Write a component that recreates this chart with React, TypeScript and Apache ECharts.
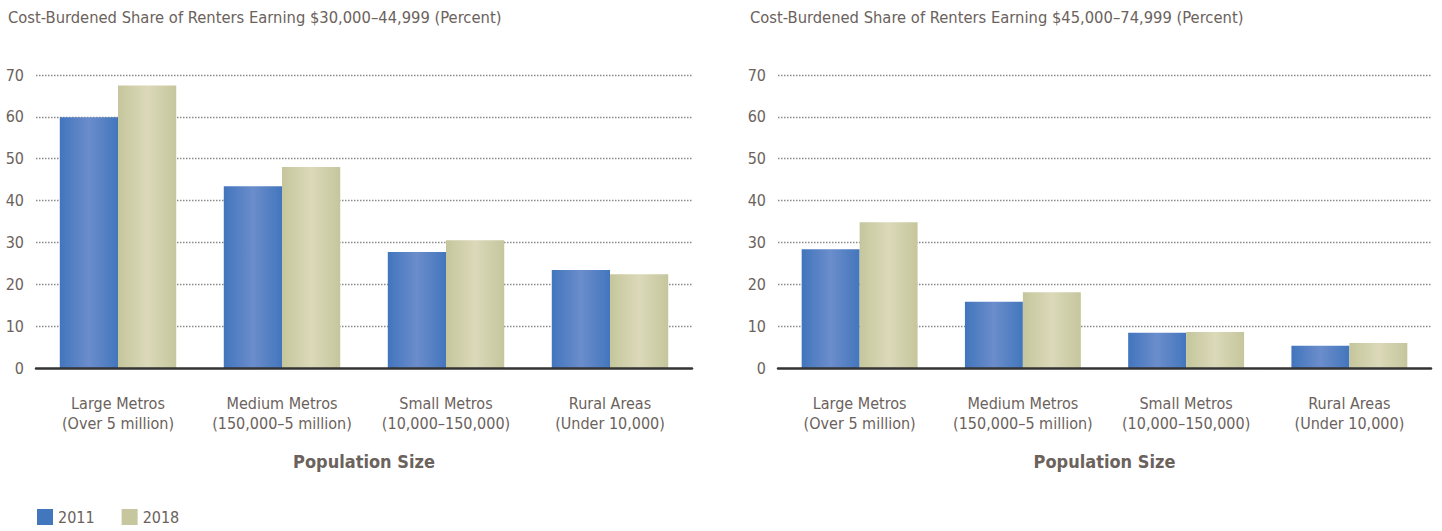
import React, { useEffect, useRef } from "react";
import * as echarts from "echarts";

const categories = [
  "Large Metros\n(Over 5 million)",
  "Medium Metros\n(150,000–5 million)",
  "Small Metros\n(10,000–150,000)",
  "Rural Areas\n(Under 10,000)",
];
const seriesNames = ["2011", "2018"];
const left2011 = [59.9, 43.4, 27.7, 23.4];
const left2018 = [67.5, 48.0, 30.5, 22.4];
const right2011 = [28.4, 15.8, 8.4, 5.3];
const right2018 = [34.8, 18.1, 8.6, 6.0];
const titles = [
  "Cost-Burdened Share of Renters Earning $30,000–44,999 (Percent)",
  "Cost-Burdened Share of Renters Earning $45,000–74,999 (Percent)",
];
const axisName = "Population Size";

const FONT = '"Liberation Sans Narrow", "DejaVu Sans Condensed", "Roboto", sans-serif';
const TEXT = "#6b625c";

const blueGrad = () =>
  new echarts.graphic.LinearGradient(0, 0, 1, 0, [
    { offset: 0, color: "#4275bd" },
    { offset: 0.5, color: "#6b8dcb" },
    { offset: 1, color: "#4376bd" },
  ]);
const greenGrad = () =>
  new echarts.graphic.LinearGradient(0, 0, 1, 0, [
    { offset: 0, color: "#c5c69c" },
    { offset: 0.5, color: "#dbd9b9" },
    { offset: 1, color: "#c5c69d" },
  ]);

export default function App() {
  const ref = useRef<HTMLDivElement>(null);
  useEffect(() => {
    document.body.style.margin = "0";
    const chart = echarts.init(ref.current!, undefined, { renderer: "svg" });
    const grids = [
      { left: 36, top: 75, width: 656, height: 293 },
      { left: 778, top: 75, width: 653, height: 293 },
    ];
    const xAxis = grids.map((_, i) => ({
      type: "category",
      gridIndex: i,
      data: categories,
      z: 10,
      axisTick: { show: false },
      axisLine: {
        show: true,
        onZero: false,
        lineStyle: { color: "#333333", width: 2.5 },
      },
      axisLabel: {
        interval: 0,
        color: TEXT,
        fontFamily: FONT,
        fontSize: 16,
        lineHeight: 20,
        margin: 25,
      },
      name: axisName,
      nameLocation: "middle",
      nameGap: 84,
      nameTextStyle: {
        color: TEXT,
        fontFamily: FONT,
        fontSize: 18,
        fontWeight: "bold",
      },
    }));
    const yAxis = grids.map((_, i) => ({
      type: "value",
      gridIndex: i,
      min: 0,
      max: 70,
      interval: 10,
      axisLine: { show: false },
      axisTick: { show: false },
      axisLabel: { color: TEXT, fontFamily: FONT, fontSize: 16, margin: 12 },
      splitLine: {
        showMinLine: false,
        lineStyle: { color: "#8a8a8a", width: 1.3, type: [1.5, 1.5] },
      },
    }));
    const mk = (name: string, data: number[], idx: number, grad: any) => ({
      name,
      type: "bar",
      xAxisIndex: idx,
      yAxisIndex: idx,
      data,
      barGap: "0%",
      barCategoryGap: "29%",
      itemStyle: { color: grad },
    });
    chart.setOption({
      animation: false,
      textStyle: { fontFamily: FONT },
      title: titles.map((t, i) => ({
        text: t,
        left: i === 0 ? 8 : 750,
        top: 9,
        padding: 0,
        textStyle: { color: TEXT, fontFamily: FONT, fontSize: 16.4, fontWeight: "normal" },
      })),
      legend: {
        left: 37,
        top: 509,
        padding: 0,
        itemWidth: 16,
        itemHeight: 16,
        itemGap: 27,
        icon: "rect",
        textStyle: { color: TEXT, fontFamily: FONT, fontSize: 16 },
        data: [
          { name: seriesNames[0], itemStyle: { color: "#4377bd" } },
          { name: seriesNames[1], itemStyle: { color: "#c6c79e" } },
        ],
      },
      grid: grids,
      xAxis,
      yAxis,
      series: [
        mk(seriesNames[0], left2011, 0, blueGrad()),
        mk(seriesNames[1], left2018, 0, greenGrad()),
        mk(seriesNames[0], right2011, 1, blueGrad()),
        mk(seriesNames[1], right2018, 1, greenGrad()),
      ],
    });
    return () => chart.dispose();
  }, []);
  return <div ref={ref} style={{ width: 1442, height: 531 }} />;
}
